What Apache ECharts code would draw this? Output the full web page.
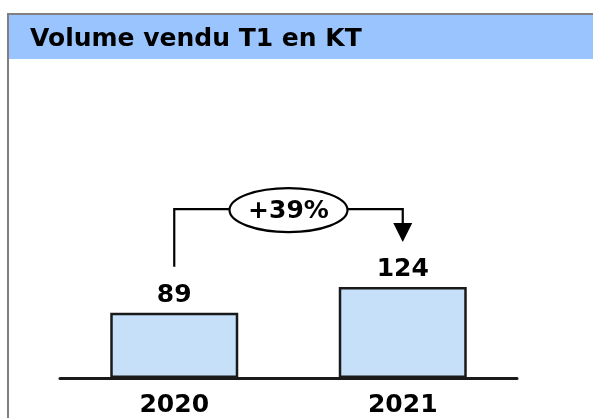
<!DOCTYPE html>
<html>
<head>
<meta charset="utf-8">
<script src="https://cdn.jsdelivr.net/npm/echarts@6/dist/echarts.min.js"></script>
<style>
  html, body { margin: 0; padding: 0; background: #fff; }
  #chart { width: 593px; height: 418px; }
</style>
</head>
<body>
<div id="chart"></div>
<script>
// Données du graphique
var titre = 'Volume vendu T1 en KT';
var annees = ['2020', '2021'];
var volumes = [89, 124];

var police = 'DejaVu Sans';

// variation entre les deux années, en %
var variation = Math.round((volumes[1] - volumes[0]) / volumes[0] * 100);
var texteVariation = (variation >= 0 ? '+' : '') + variation + '%';

var myChart = echarts.init(document.getElementById('chart'));

// flèche avec l'ellipse au dessus des barres
function dessineFleche(params, api) {
  var p1 = api.coord([api.value(0), api.value(1)]);
  var p2 = api.coord([api.value(2), api.value(3)]);
  var x1 = p1[0], x2 = p2[0];
  var yDepart = p1[1] - 46;
  var yPointe = p2[1] - 45;
  var yHaut = Math.min(p1[1], p2[1]) - 78;
  var cx = (x1 + x2) / 2;
  var rx = 59, ry = 22;
  var trait = { stroke: '#000', lineWidth: 2.2, fill: null };
  return {
    type: 'group',
    children: [
      { type: 'polyline', shape: { points: [[x1, yDepart], [x1, yHaut], [cx - rx, yHaut]] }, style: trait },
      { type: 'polyline', shape: { points: [[cx + rx, yHaut], [x2, yHaut], [x2, yPointe - 18]] }, style: trait },
      { type: 'polygon', shape: { points: [[x2 - 9.5, yPointe - 19], [x2 + 9.5, yPointe - 19], [x2, yPointe]] }, style: { fill: '#000' } },
      { type: 'ellipse', shape: { cx: cx, cy: yHaut + 1, rx: rx, ry: ry }, style: { fill: '#fff', stroke: '#000', lineWidth: 2.2 } },
      {
        type: 'text',
        style: {
          text: texteVariation, x: cx, y: yHaut + 2,
          align: 'center', verticalAlign: 'middle',
          font: 'bold 25px ' + police, fill: '#000'
        }
      }
    ]
  };
}

var option = {
  animation: false,
  backgroundColor: '#fff',
  graphic: [
    // cadre gris
    { type: 'rect', shape: { x: 8, y: 14, width: 700, height: 500 }, style: { fill: null, stroke: '#808080', lineWidth: 2 }, silent: true },
    // bandeau du titre
    { type: 'rect', shape: { x: 9, y: 15, width: 600, height: 44 }, style: { fill: '#99c4fe' }, silent: true },
    {
      type: 'text', x: 30, y: 39,
      style: { text: titre, font: 'bold 25px ' + police, fill: '#000', verticalAlign: 'middle' }
    }
  ],
  grid: { left: 60, right: 76, top: 158, bottom: 40 },
  xAxis: {
    type: 'category',
    data: annees,
    axisLine: { lineStyle: { color: '#1a1a1a', width: 3 } },
    axisTick: { show: false },
    axisLabel: { color: '#000', fontFamily: police, fontWeight: 'bold', fontSize: 25, margin: 15 }
  },
  yAxis: {
    type: 'value',
    min: 0,
    max: 300,
    show: false,
    splitLine: { show: false }
  },
  series: [
    {
      type: 'bar',
      data: volumes,
      barWidth: 128,
      itemStyle: { color: '#c6e0fa', borderColor: '#1a1a1a', borderWidth: 2.5 },
      label: {
        show: true,
        position: 'top',
        distance: 5,
        color: '#000',
        fontFamily: police,
        fontWeight: 'bold',
        fontSize: 25
      }
    },
    {
      type: 'custom',
      renderItem: dessineFleche,
      data: [[0, volumes[0], 1, volumes[1]]],
      z: 5,
      silent: true
    }
  ]
};

myChart.setOption(option);
</script>
</body>
</html>
